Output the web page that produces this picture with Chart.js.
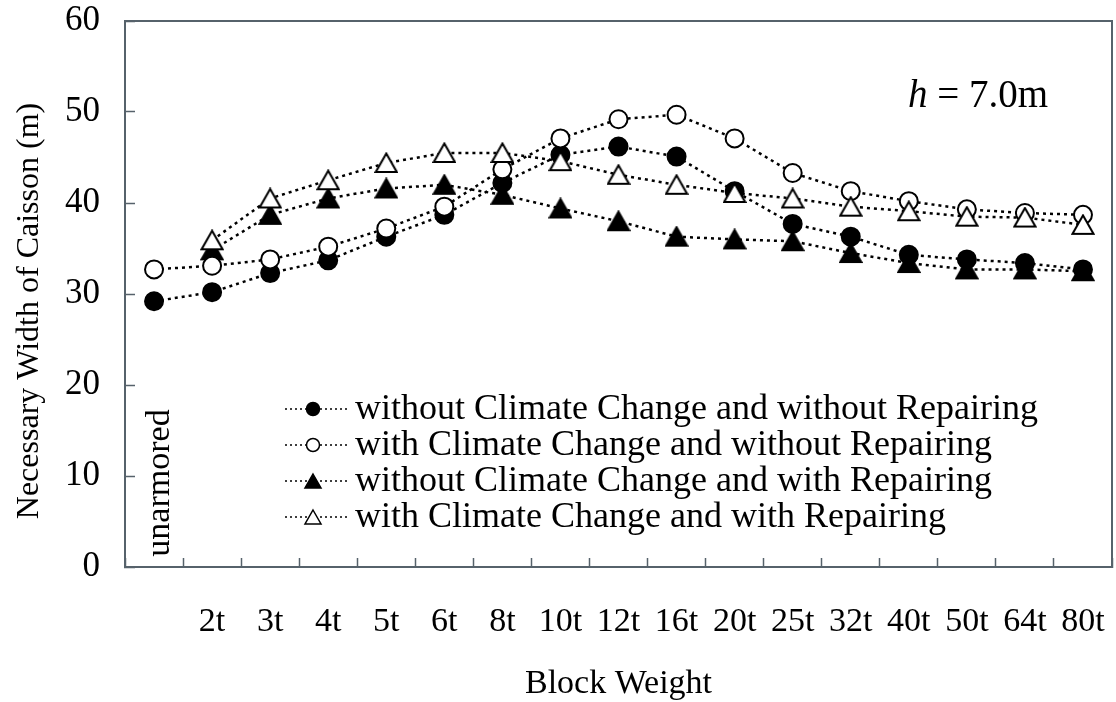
<!DOCTYPE html>
<html>
<head>
<meta charset="utf-8">
<script src="https://cdn.jsdelivr.net/npm/chart.js@4.4.1/dist/chart.umd.min.js"></script>
<style>
  html, body { margin: 0; padding: 0; background: #fff; }
  #wrap { width: 1116px; height: 702px; }
</style>
</head>
<body>
<div id="wrap"><canvas id="myChart"></canvas></div>
<script>
// Block weights along the x axis (first one is the unarmored case)
const categories = ['', '2t', '3t', '4t', '5t', '6t', '8t', '10t', '12t', '16t', '20t', '25t', '32t', '40t', '50t', '64t', '80t'];

// Necessary width of caisson (m)
const noClimateNoRepair = [29.2, 30.2, 32.3, 33.7, 36.3, 38.7, 42.2, 45.3, 46.2, 45.1, 41.3, 37.7, 36.3, 34.3, 33.8, 33.4, 32.7];
const climateNoRepair = [32.7, 33.1, 33.8, 35.2, 37.2, 39.6, 43.7, 47.1, 49.2, 49.7, 47.1, 43.3, 41.3, 40.2, 39.3, 38.9, 38.7];
const noClimateRepair = [null, 34.8, 38.7, 40.5, 41.6, 42.0, 40.9, 39.4, 38.0, 36.3, 36.0, 35.8, 34.5, 33.4, 32.7, 32.7, 32.5];
const climateRepair = [null, 35.9, 40.5, 42.5, 44.4, 45.5, 45.5, 44.6, 43.1, 42.0, 41.1, 40.5, 39.6, 39.1, 38.5, 38.4, 37.6];

const seriesNames = [
  'without Climate Change and without Repairing',
  'with Climate Change and without Repairing',
  'without Climate Change and with Repairing',
  'with Climate Change and with Repairing',
];

const yTicks = [0, 10, 20, 30, 40, 50, 60];

const serif = '"Liberation Serif", "Times New Roman", serif';
const axisColor = '#56626b';

// triangle marker centred on its bounding box
function triangleMarker(fill) {
  const c = document.createElement('canvas');
  c.width = 24;
  c.height = 22;
  const g = c.getContext('2d');
  g.beginPath();
  g.moveTo(12, 1.5);
  g.lineTo(22.5, 20);
  g.lineTo(1.5, 20);
  g.closePath();
  g.fillStyle = fill;
  g.fill();
  g.lineWidth = 2;
  g.strokeStyle = '#000';
  g.stroke();
  return c;
}

function lineSet(label, data, style, fill, order) {
  return {
    label: label,
    data: data,
    borderColor: '#000',
    borderWidth: 2.5,
    borderDash: [3, 4],
    backgroundColor: fill,
    pointStyle: style,
    pointRadius: 9,
    pointBorderWidth: 2,
    pointBorderColor: '#000',
    pointBackgroundColor: fill,
    tension: 0,
    spanGaps: false,
    order: order,
  };
}

const datasets = [
  lineSet(seriesNames[0], noClimateNoRepair, 'circle', '#000', 4),
  lineSet(seriesNames[1], climateNoRepair, 'circle', '#fff', 2),
  lineSet(seriesNames[2], noClimateRepair, triangleMarker('#000'), '#000', 3),
  lineSet(seriesNames[3], climateRepair, triangleMarker('#fff'), '#fff', 1),
];

// small marker for the legend
function legendMarker(ctx, x, y, i) {
  ctx.save();
  ctx.lineWidth = 1.5;
  ctx.strokeStyle = '#000';
  ctx.fillStyle = (i === 0 || i === 2) ? '#000' : '#fff';
  ctx.setLineDash([]);
  ctx.beginPath();
  if (i < 2) {
    ctx.arc(x, y, 6.5, 0, Math.PI * 2);
  } else {
    ctx.moveTo(x, y - 7);
    ctx.lineTo(x + 8, y + 7);
    ctx.lineTo(x - 8, y + 7);
    ctx.closePath();
  }
  ctx.fill();
  ctx.stroke();
  ctx.restore();
}

const extras = {
  id: 'extras',
  afterDraw(chart) {
    const { ctx, chartArea: a, scales: { x } } = chart;
    ctx.save();

    // top and right frame
    ctx.strokeStyle = axisColor;
    ctx.lineWidth = 2;
    ctx.beginPath();
    ctx.moveTo(a.left, a.top);
    ctx.lineTo(a.right, a.top);
    ctx.lineTo(a.right, a.bottom);
    ctx.stroke();

    ctx.fillStyle = '#000';

    // y axis title
    ctx.save();
    ctx.font = '32px ' + serif;
    ctx.textAlign = 'center';
    ctx.textBaseline = 'middle';
    ctx.translate(30, 311);
    ctx.rotate(-Math.PI / 2);
    ctx.fillText('Necessary Width of Caisson (m)', 0, 0);
    ctx.restore();

    // unarmored label, written upward inside the first column
    ctx.save();
    ctx.font = '34px ' + serif;
    ctx.textAlign = 'center';
    ctx.textBaseline = 'alphabetic';
    ctx.translate(x.getPixelForValue(0) + 15, 483);
    ctx.rotate(-Math.PI / 2);
    ctx.fillText('unarmored', 0, 0);
    ctx.restore();

    // h = 7.0m
    ctx.textBaseline = 'alphabetic';
    ctx.textAlign = 'left';
    ctx.font = 'italic 39px ' + serif;
    const hx = a.right - 204;
    const hy = a.top + 86;
    ctx.fillText('h', hx, hy);
    const hw = ctx.measureText('h').width;
    ctx.font = '39px ' + serif;
    ctx.fillText(' = 7.0m', hx + hw, hy);

    // legend
    const lx = a.left + 160;
    ctx.font = '36px ' + serif;
    ctx.textBaseline = 'middle';
    seriesNames.forEach((name, i) => {
      const ly = a.top + 388 + i * 36;
      ctx.save();
      ctx.strokeStyle = '#000';
      ctx.lineWidth = 1.5;
      ctx.setLineDash([2, 3]);
      ctx.beginPath();
      ctx.moveTo(lx, ly);
      ctx.lineTo(lx + 62, ly);
      ctx.stroke();
      ctx.restore();
      legendMarker(ctx, lx + 28, ly, i);
      ctx.fillText(name, lx + 70, ly + 1);
    });

    ctx.restore();
  }
};

// keep the plot box fixed: no extra label padding from the scales
function fixPadding(s) {
  s.paddingTop = 0;
  s.paddingBottom = 0;
  s.paddingLeft = 0;
  s.paddingRight = 0;
}

const ctx = document.getElementById('myChart').getContext('2d');

new Chart(ctx, {
  type: 'line',
  data: { labels: categories, datasets: datasets },
  plugins: [extras],
  options: {
    responsive: true,
    maintainAspectRatio: false,
    animation: false,
    events: [],
    layout: { autoPadding: false, padding: { top: 21, right: 4, left: 0, bottom: 0 } },
    plugins: {
      legend: { display: false },
      tooltip: { enabled: false },
    },
    scales: {
      x: {
        type: 'category',
        offset: true,
        grid: { offset: true, drawOnChartArea: false, tickLength: -9, tickColor: axisColor, tickWidth: 1.5 },
        border: { color: axisColor, width: 2 },
        ticks: { color: '#000', font: { family: serif, size: 34 }, padding: 44, maxRotation: 0, autoSkip: false },
        title: { display: true, text: 'Block Weight', color: '#000', font: { family: serif, size: 34, lineHeight: 1.0 }, padding: { top: 0, bottom: 1 } },
        afterFit: (s) => { s.height = 135; fixPadding(s); },
      },
      y: {
        min: 0,
        max: 60,
        afterBuildTicks: (s) => { s.ticks = yTicks.map(v => ({ value: v })); },
        grid: { drawOnChartArea: false, tickLength: -10, tickColor: axisColor, tickWidth: 1.5 },
        border: { color: axisColor, width: 2 },
        ticks: { color: '#000', font: { family: serif, size: 35 }, padding: 35 },
        afterFit: (s) => { s.width = 125; fixPadding(s); },
      },
    },
  },
});
</script>
</body>
</html>
